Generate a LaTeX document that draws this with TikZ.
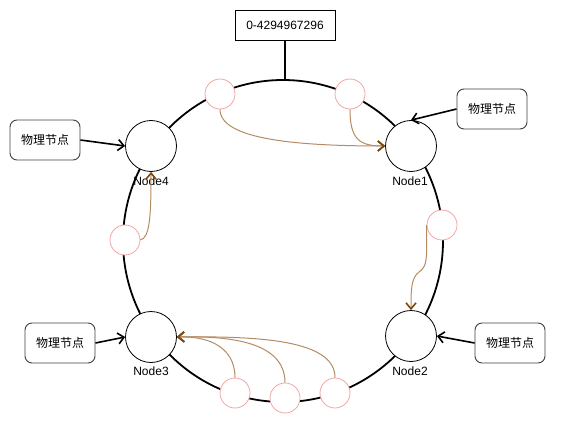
\documentclass[tikz,border=0pt]{standalone}
\usepackage{fontspec}
\setmainfont{Liberation Sans}
\newfontfamily\cjk{Noto Sans CJK SC}
\usetikzlibrary{arrows.meta}
\definecolor{pinkline}{RGB}{242,165,165}
\definecolor{brownline}{RGB}{180,140,100}
\definecolor{brownhead}{RGB}{125,70,15}
\begin{document}
\begin{tikzpicture}[x=1pt,y=-1pt,
  every node/.style={font=\fontsize{12}{14}\selectfont},
  ring/.style={line width=1.8pt,black},
  hashnode/.style={circle,draw=black,line width=0.8pt,fill=white,minimum size=51pt,inner sep=0pt},
  vnode/.style={circle,draw=pinkline,line width=0.8pt,fill=white,minimum size=30pt,inner sep=0pt},
  physbox/.style={draw=black!75,line width=0.9pt,rounded corners=7pt,fill=white,minimum width=70pt,minimum height=40pt,inner sep=0pt,font=\cjk\fontsize{12}{14}\selectfont},
  rangebox/.style={draw=black,line width=0.9pt,fill=white,minimum width=100pt,minimum height=30pt,inner sep=0pt},
  phys/.style={line width=1.6pt,black,-{Straight Barb[length=6pt,width=11pt,line width=1.6pt]}},
  vlink/.style={line width=1pt,brownline,-{Straight Barb[length=6pt,width=10pt,line width=1.6pt,color=brownhead]}},
  lbl/.style={inner sep=0pt}
]
\useasboundingbox (0,0) rectangle (565,433);
% ring
\draw[ring] (283,241) ellipse [x radius=160pt, y radius=161pt];
\coordinate (ringtop) at (285,80);
% range box
\node[rangebox] (range) at (285,25) {0-4294967296};
\draw[ring] (range.south) -- (ringtop);
% hash nodes
\node[hashnode] (n4) at (151,146) {};
\node[hashnode] (n1) at (411,146) {};
\node[hashnode] (n3) at (151,337) {};
\node[hashnode] (n2) at (411,336) {};
% virtual nodes
\node[vnode] (va) at (220,94) {};
\node[vnode] (vb) at (350,94) {};
\node[vnode] (vc) at (442,225) {};
\node[vnode] (vd) at (125,240) {};
\node[vnode] (ve) at (235,393) {};
\node[vnode] (vf) at (285,398) {};
\node[vnode] (vg) at (335,393) {};
% labels
\node[lbl] (l4) at (151,181) {Node4};
\node[lbl] (l1) at (410,181) {Node1};
\node[lbl] (l3) at (151,371) {Node3};
\node[lbl] (l2) at (410,371) {Node2};
% physical boxes
\node[physbox] (p4) at (45,140) {物理节点};
\node[physbox] (p1) at (492,109) {物理节点};
\node[physbox] (p3) at (60,343) {物理节点};
\node[physbox] (p2) at (510,343) {物理节点};
\draw[phys] (p4.east) -- (n4.west);
\draw[phys] (p1.west) -- (n1.north);
\draw[phys] (p3.east) -- (n3.west);
\draw[phys] (p2.west) -- (n2.east);
% virtual links
\draw[vlink] (va.south) .. controls (220,140) and (300,146) .. (n1.west);
\draw[vlink] (vb.south) .. controls (350,140) and (360,146) .. (n1.west);
\draw[vlink] (vc.west) .. controls (427,262) and (427,266) .. (419,272) .. controls (411,278) and (411,290) .. (n2.north);
\draw[vlink] (vd.east) .. controls (150,238) and (151,215) .. (n4.south);
\draw[vlink] (ve.north) .. controls (235,345) and (205,336) .. (n3.east);
\draw[vlink] (vf.north) .. controls (285,340) and (225,336) .. (n3.east);
\draw[vlink] (vg.north) .. controls (335,340) and (260,336) .. (n3.east);
\end{tikzpicture}
\end{document}
